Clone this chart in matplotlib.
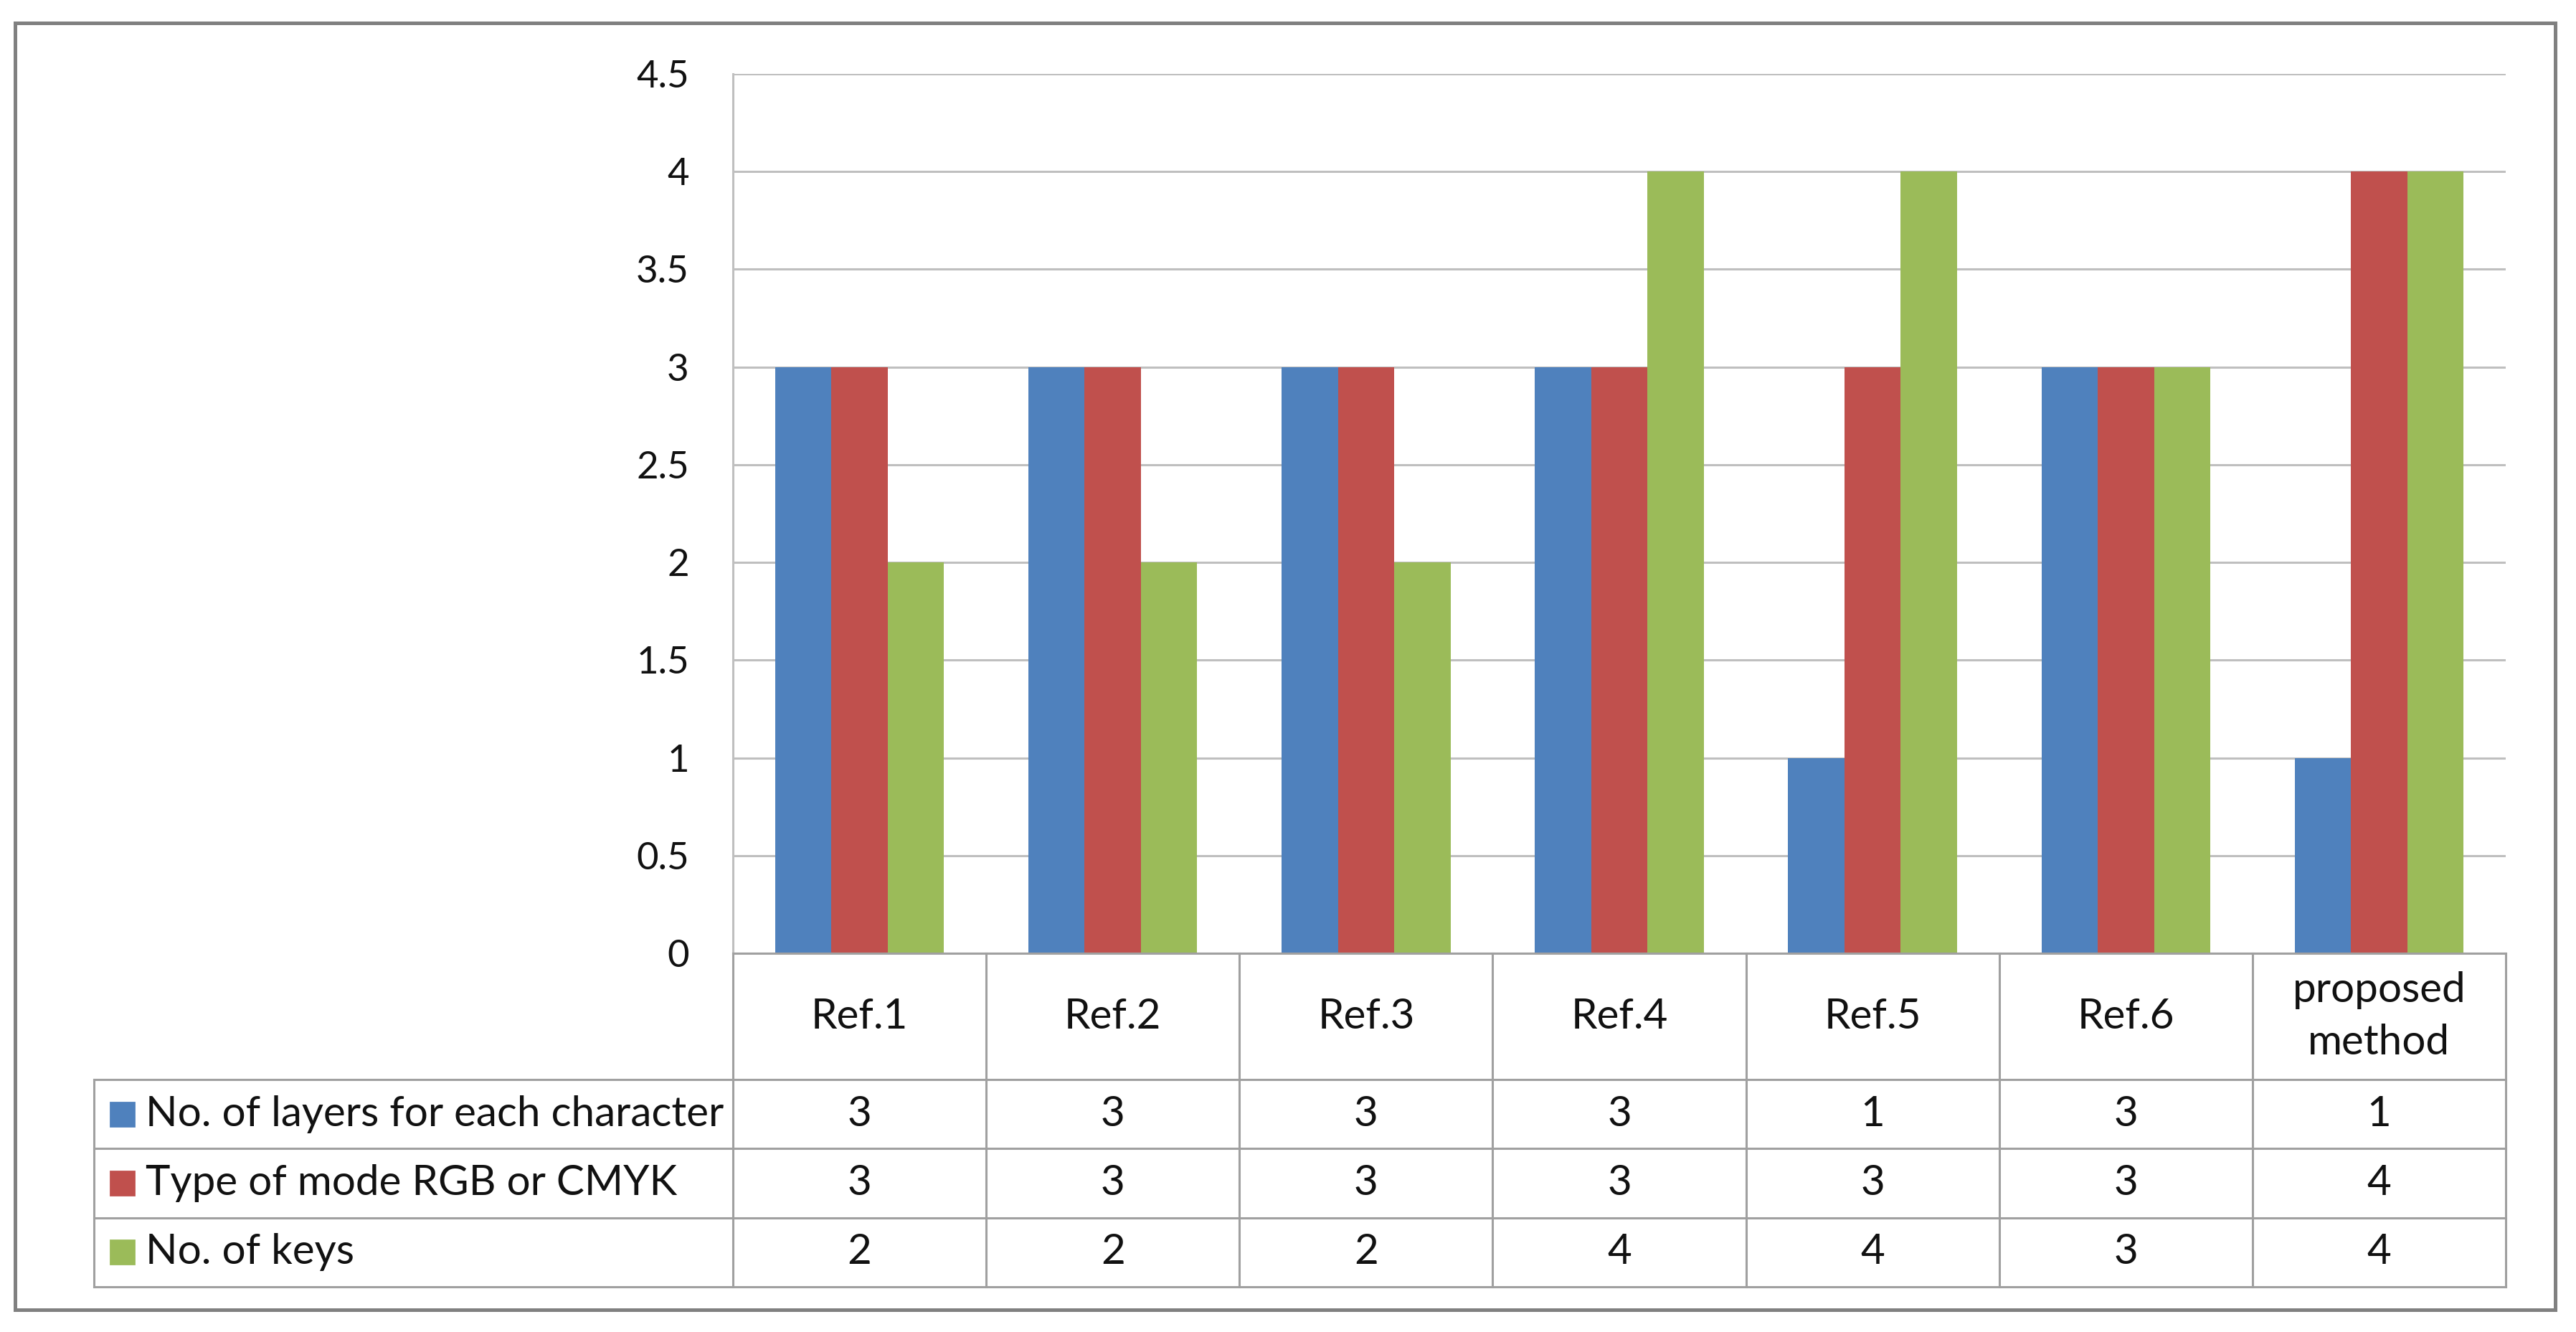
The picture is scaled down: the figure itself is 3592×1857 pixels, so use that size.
import matplotlib
matplotlib.use("Agg")
import matplotlib.pyplot as plt
from matplotlib.patches import Rectangle
import numpy as np

plt.rcParams['font.family'] = ['Lato', 'DejaVu Sans']

categories = ["Ref.1", "Ref.2", "Ref.3", "Ref.4", "Ref.5", "Ref.6", "proposed\nmethod"]
series_names = ["No. of layers for each character", "Type of mode RGB or CMYK", "No. of keys"]
layers = [3, 3, 3, 3, 1, 3, 1]
mode = [3, 3, 3, 3, 3, 3, 4]
keys = [2, 2, 2, 4, 4, 3, 4]
series = [layers, mode, keys]
colors = ["#4F81BD", "#C0504D", "#9BBB59"]
yticks = [0, 0.5, 1, 1.5, 2, 2.5, 3, 3.5, 4, 4.5]
ytick_labels = ["0", "0.5", "1", "1.5", "2", "2.5", "3", "3.5", "4", "4.5"]

W, H = 3592, 1857
DPI = 200
fig = plt.figure(figsize=(W / DPI, H / DPI), dpi=DPI)

# pixel layout
px_left, px_right = 1022, 3494
px_top, px_zero = 103, 1329
px_header_bottom = 1505
px_table_bottom = 1794
px_table_left = 131
FS_TICK = 19
FS = 21
grid_c = "#BFBFBF"
line_c = "#A0A0A0"
txt_c = "#111111"

ax = fig.add_axes([px_left / W, 1 - px_zero / H, (px_right - px_left) / W, (px_zero - px_top) / H])
n = len(categories)
x = np.arange(n)
bw = 2 / 9
for i, (vals, c) in enumerate(zip(series, colors)):
    ax.bar(x + (i - 1) * bw, vals, width=bw, color=c, zorder=3, linewidth=0)
ax.set_xlim(-0.5, n - 0.5)
ax.set_ylim(0, 4.5)
ax.set_yticks(yticks)
ax.set_yticklabels(ytick_labels, fontsize=FS_TICK, color=txt_c)
ax.tick_params(axis='y', length=0, pad=22)
ax.set_xticks([])
ax.yaxis.grid(True, color=grid_c, linewidth=1.1, zorder=0)
for s in ["top", "right"]:
    ax.spines[s].set_visible(False)
ax.spines["left"].set_color(grid_c)
ax.spines["left"].set_linewidth(1.1)
ax.spines["bottom"].set_color(line_c)
ax.spines["bottom"].set_linewidth(1.1)
ax.spines["bottom"].set_zorder(4)

# data table axes
cat_px = (px_right - px_left) / n
x_left_table = -0.5 - (px_left - px_table_left) / cat_px
tab = fig.add_axes([px_table_left / W, 1 - px_table_bottom / H,
                    (px_right - px_table_left) / W, (px_table_bottom - px_zero) / H])
tab.set_xlim(x_left_table, n - 0.5)
total_h = px_table_bottom - px_zero
tab.set_ylim(total_h, 0)
tab.axis("off")
header_h = px_header_bottom - px_zero
row_h = (total_h - header_h) / 3

# vertical category separators
for k in range(n + 1):
    tab.plot([k - 0.5, k - 0.5], [0, total_h], color=line_c, lw=1.1, clip_on=False)
# left edge of legend column
tab.plot([x_left_table, x_left_table], [header_h, total_h], color=line_c, lw=1.1, clip_on=False)
# horizontal row lines
for r in range(4):
    yy = header_h + r * row_h
    tab.plot([x_left_table, n - 0.5], [yy, yy], color=line_c, lw=1.1, clip_on=False)

# category labels
for k, lab in enumerate(categories):
    tab.text(k, header_h / 2, lab, ha="center", va="center", fontsize=FS, color=txt_c,
             linespacing=1.45)

# rows
sq = 33
for r, (name, vals, c) in enumerate(zip(series_names, series, colors)):
    yc = header_h + (r + 0.5) * row_h
    tab.add_patch(Rectangle((x_left_table + (154 - px_table_left) / cat_px, yc - sq / 2),
                            sq / cat_px, sq, color=c, clip_on=False))
    tab.text(x_left_table + (203 - px_table_left) / cat_px, yc, name, ha="left", va="center",
             fontsize=FS, color=txt_c)
    for k, v in enumerate(vals):
        tab.text(k, yc, str(v), ha="center", va="center", fontsize=FS, color=txt_c)

# outer frame
fig.patches.append(Rectangle((21 / W, 1 - 1826 / H), (3563 - 21) / W, (1826 - 32) / H,
                             transform=fig.transFigure, fill=False, ec="#808080", lw=1.8))

fig.savefig("out.png", dpi=DPI, facecolor="white")
